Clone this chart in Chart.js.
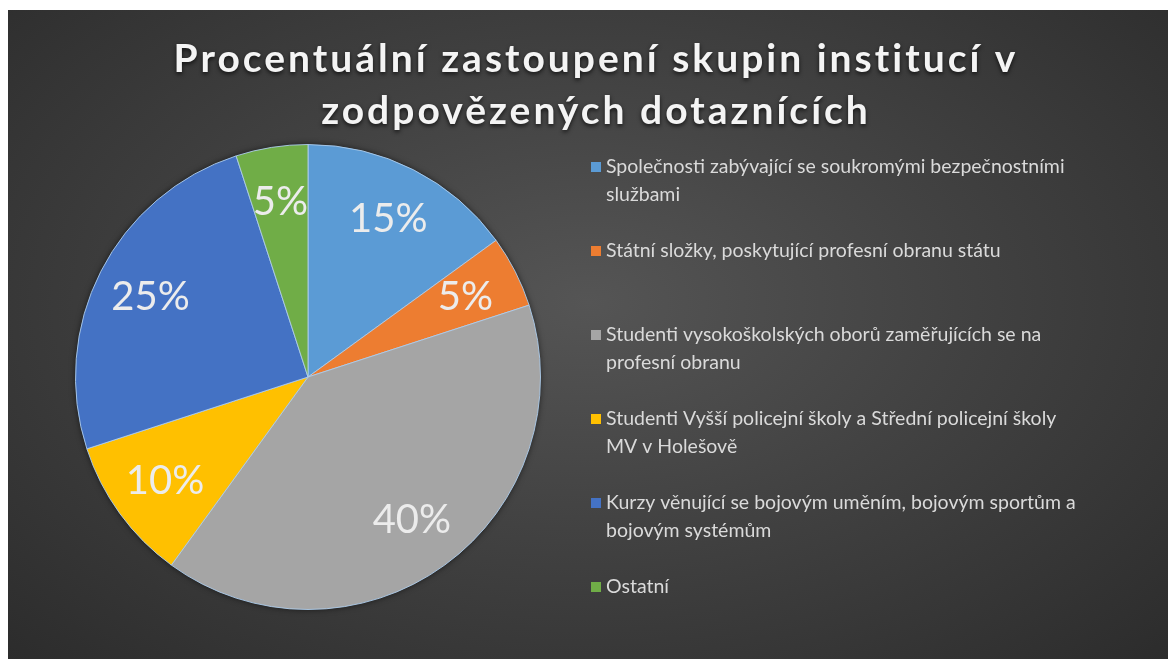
<!DOCTYPE html>
<html>
<head>
<meta charset="utf-8">
<script src="https://cdn.jsdelivr.net/npm/chart.js@4"></script>
<style>
  body { margin: 0; background: #ffffff; }
  #wrap {
    position: absolute; left: 8px; top: 10px; width: 1160px; height: 649px;
    background: radial-gradient(ellipse at 50% 45%, #555555 0%, #424242 45%, #2c2c2c 100%);
  }
</style>
</head>
<body>
<div id="wrap"><canvas id="pieChart"></canvas></div>
<script>
const titleLines = ["Procentuální zastoupení skupin institucí v", "zodpovězených dotaznících"];
const categories = [
  ["Společnosti zabývající se soukromými bezpečnostními", "službami"],
  ["Státní složky, poskytující profesní obranu státu"],
  ["Studenti vysokoškolských oborů zaměřujících se na", "profesní obranu"],
  ["Studenti Vyšší policejní školy a Střední policejní školy", "MV v Holešově"],
  ["Kurzy věnující se bojovým uměním, bojovým sportům a", "bojovým systémům"],
  ["Ostatní"],
];
const shares = [15, 5, 40, 10, 25, 5];
const colors = ["#5B9BD5", "#ED7D31", "#A5A5A5", "#FFC000", "#4472C4", "#70AD47"];

const FONT = "Lato, 'Open Sans', sans-serif";

// dark shadow ring under the pie
const pieShadow = {
  id: "pieShadow",
  beforeDatasetsDraw(chart) {
    const arc = chart.getDatasetMeta(0).data[0];
    if (!arc) return;
    const { x, y, outerRadius } = arc.getProps(["x", "y", "outerRadius"], true);
    const ctx = chart.ctx;
    ctx.save();
    ctx.shadowColor = "rgba(0,0,0,0.6)";
    ctx.shadowBlur = 6;
    ctx.beginPath();
    ctx.arc(x, y, outerRadius, 0, Math.PI * 2);
    ctx.fillStyle = "#1c3550";
    ctx.fill();
    ctx.restore();
  },
};

// percentage labels inside the slices
const sliceLabels = {
  id: "sliceLabels",
  afterDatasetsDraw(chart) {
    const ctx = chart.ctx;
    const meta = chart.getDatasetMeta(0);
    const total = shares.reduce((a, b) => a + b, 0);
    ctx.save();
    ctx.font = "40px " + FONT;
    ctx.fillStyle = "#ececec";
    ctx.textAlign = "center";
    ctx.textBaseline = "middle";
    meta.data.forEach((arc, i) => {
      const p = arc.getProps(["x", "y", "startAngle", "endAngle", "outerRadius"], true);
      const mid = (p.startAngle + p.endAngle) / 2;
      const r = p.outerRadius * 0.76;
      ctx.fillText(Math.round(shares[i] / total * 100) + "%", p.x + Math.cos(mid) * r, p.y + Math.sin(mid) * r);
    });
    ctx.restore();
  },
};

// title and legend
const sideText = {
  id: "sideText",
  afterDraw(chart) {
    const ctx = chart.ctx;
    ctx.save();
    ctx.font = "bold 39px " + FONT;
    ctx.letterSpacing = "3px";
    ctx.fillStyle = "#f4f4f4";
    ctx.textAlign = "center";
    ctx.textBaseline = "middle";
    ctx.shadowColor = "rgba(0,0,0,0.7)";
    ctx.shadowBlur = 4;
    ctx.shadowOffsetY = 2;
    titleLines.forEach((t, i) => ctx.fillText(t, chart.width / 2 + 8, 49 + i * 52));
    ctx.restore();

    ctx.save();
    ctx.font = "19.5px " + FONT;
    ctx.textAlign = "left";
    ctx.textBaseline = "middle";
    categories.forEach((lines, i) => {
      const y0 = 157 + i * 84;
      ctx.fillStyle = colors[i];
      ctx.fillRect(583, y0 - 5, 10, 10);
      ctx.fillStyle = "#dadada";
      lines.forEach((t, j) => ctx.fillText(t, 598, y0 + j * 28));
    });
    ctx.restore();
  },
};

new Chart(document.getElementById("pieChart"), {
  type: "pie",
  data: {
    labels: categories,
    datasets: [
      {
        data: shares,
        backgroundColor: colors,
        borderColor: "rgba(175,205,235,0.9)",
        borderWidth: 1,
      },
    ],
  },
  options: {
    responsive: true,
    maintainAspectRatio: false,
    animation: false,
    layout: { padding: { left: 67, right: 627, top: 134, bottom: 49 } },
    plugins: {
      legend: { display: false },
      title: { display: false },
      tooltip: { enabled: false },
    },
  },
  plugins: [pieShadow, sliceLabels, sideText],
});
</script>
</body>
</html>
